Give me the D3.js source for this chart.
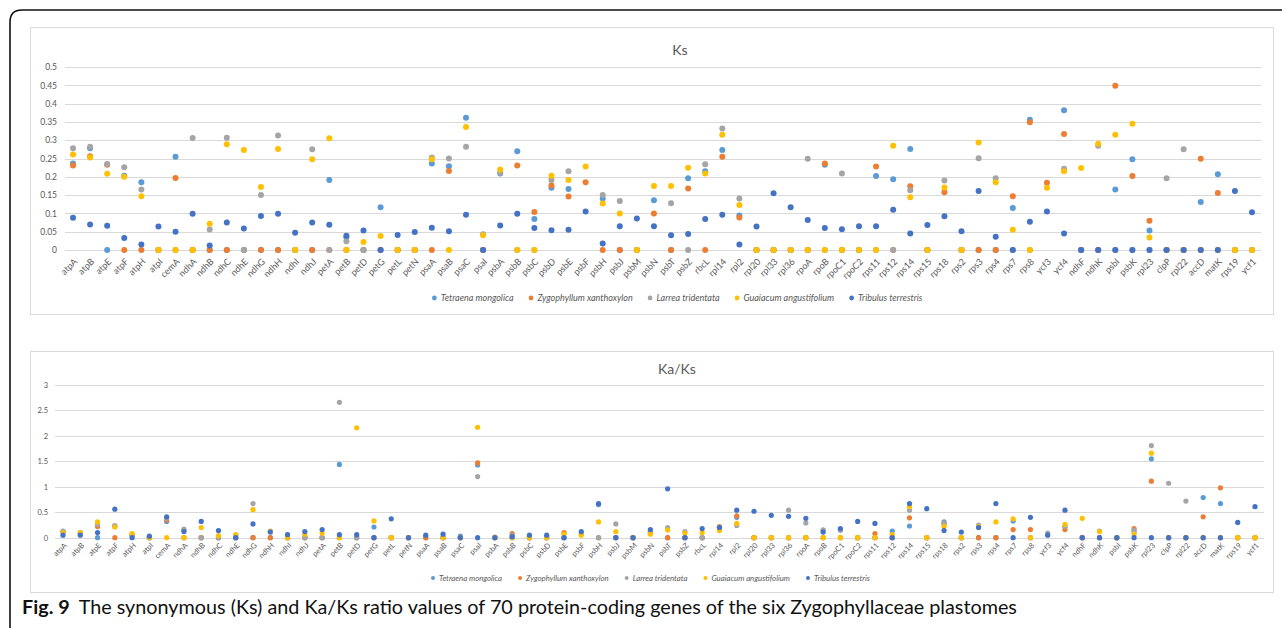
<!DOCTYPE html>
<html lang="en">
<head>
    <meta charset="UTF-8">
    <title>Ks and Ka/Ks</title>
    <script src="https://cdn.jsdelivr.net/npm/d3@7/dist/d3.min.js"></script>
    <style>
        body { margin: 0; background: #fff; }
        svg { display: block; }
        .panel-box { fill: #fff; stroke: #d9d9d9; stroke-width: 1; }
        .grid line { stroke: #d9d9d9; stroke-width: 1; }
        .tick-label { font-family: Lato, sans-serif; fill: #595959; }
        .title { font-family: Lato, sans-serif; fill: #595959; }
        .legend text { font-family: Lato, sans-serif; font-style: italic; fill: #595959; }
    </style>
</head>
<body>
<script>
    var genes = ["atpA", "atpB", "atpE", "atpF", "atpH", "atpI", "cemA", "ndhA", "ndhB", "ndhC",
        "ndhE", "ndhG", "ndhH", "ndhI", "ndhJ", "petA", "petB", "petD", "petG", "petL",
        "petN", "psaA", "psaB", "psaC", "psaI", "psbA", "psbB", "psbC", "psbD", "psbE",
        "psbF", "psbH", "psbJ", "psbM", "psbN", "psbT", "psbZ", "rbcL", "rpl14", "rpl2",
        "rpl20", "rpl33", "rpl36", "rpoA", "rpoB", "rpoC1", "rpoC2", "rps11", "rps12", "rps14",
        "rps15", "rps18", "rps2", "rps3", "rps4", "rps7", "rps8", "ycf3", "ycf4", "ndhF",
        "ndhK", "psbI", "psbK", "rpl23", "clpP", "rpl22", "accD", "matK", "rps19", "ycf1"];

    var species = ["Tetraena mongolica", "Zygophyllum xanthoxylon", "Larrea tridentata",
        "Guaiacum angustifolium", "Tribulus terrestris"];
    var colors = ["#5b9bd5", "#ed7d31", "#a5a5a5", "#ffc000", "#4472c4"];

    var ksTicks = [0, 0.05, 0.1, 0.15, 0.2, 0.25, 0.3, 0.35, 0.4, 0.45, 0.5];
    var kaksTicks = [0, 0.5, 1, 1.5, 2, 2.5, 3];

    // Ks values, one array per species, in gene order (null = no point)
    var ksTetraena = [.236, .278, 0, .203, .185, 0, .255, 0, 0, 0,
        0, 0, 0, 0, 0, .191, .035, 0, .117, 0,
        0, .236, .229, .361, 0, .209, .270, .085, .170, .167,
        null, .141, 0, 0, .136, 0, .196, .215, .273, .094,
        0, 0, 0, 0, .233, 0, 0, .202, .193, .276,
        0, null, 0, 0, 0, .115, .356, null, .382, 0,
        0, .165, .248, .053, 0, 0, .131, .207, 0, 0];
    var ksZygophyllum = [.231, .256, .233, 0, 0, 0, .197, 0, 0, 0,
        0, 0, 0, 0, 0, 0, 0, 0, 0, 0,
        0, 0, .216, null, 0, null, .231, .104, .176, .146,
        .185, 0, 0, 0, .100, 0, .168, 0, .255, .089,
        0, 0, 0, 0, .236, 0, 0, .228, 0, .174,
        0, .158, 0, 0, 0, .147, .349, .184, .317, 0,
        0, .449, .202, .080, 0, 0, .249, .156, 0, 0];
    var ksLarrea = [.278, .282, .235, .226, .165, 0, 0, .306, .056, .307,
        0, .150, .313, 0, .275, 0, .024, 0, 0, 0,
        0, .253, .250, .282, .043, .211, 0, 0, .191, .215,
        null, .150, .134, 0, null, .128, 0, .234, .332, .141,
        0, 0, 0, .249, 0, .209, 0, 0, 0, .163,
        0, .190, 0, .251, .196, 0, 0, null, .222, 0,
        .285, 0, 0, 0, .196, .275, 0, 0, 0, 0];
    var ksGuaiacum = [.261, .253, .208, .200, .147, 0, 0, 0, .072, .289,
        .273, .172, .276, 0, .248, .305, 0, .022, .038, 0,
        0, .248, 0, .336, .040, .220, 0, 0, .203, .191,
        .228, .127, .100, 0, .175, .175, .225, .209, .315, .123,
        0, 0, 0, 0, 0, 0, 0, 0, .285, .144,
        0, .171, 0, .294, .185, .055, 0, .170, .215, .224,
        .290, .315, .345, .034, 0, 0, 0, 0, 0, 0];
    var ksTribulus = [.088, .070, .066, .033, .015, .064, .050, .099, .012, .075,
        .059, .093, .099, .047, .075, .069, .039, .053, 0, .041,
        .049, .061, .051, .096, 0, .067, .099, .060, .054, .055,
        .105, .018, .065, .086, .065, .040, .044, .085, .096, .015,
        .064, .155, .117, .082, .060, .057, .065, .065, .110, .045,
        .068, .092, .051, .161, .036, 0, .077, .105, .045, 0,
        0, 0, 0, 0, 0, 0, 0, 0, .161, .103];

    // Ka/Ks values, same layout
    var kaksTetraena = [.12, .08, 0, .23, .05, 0, .32, .15, 0, 0,
        0, 0, 0, 0, 0, 0, 1.44, 0, .21, 0,
        0, 0, 0, .03, 1.43, 0, 0, 0, 0, 0,
        null, .65, 0, 0, .13, 0, 0, 0, .20, .40,
        0, 0, 0, 0, .15, .15, 0, 0, .13, .23,
        0, .31, 0, 0, 0, .33, 0, null, .22, 0,
        0, 0, .12, 1.55, 0, 0, .79, .67, 0, 0];
    var kaksZygophyllum = [.11, null, .22, 0, .05, 0, .35, 0, 0, 0,
        0, 0, 0, 0, 0, 0, 0, 0, 0, 0,
        0, 0, 0, 0, 1.47, .01, .08, 0, 0, .10,
        null, 0, 0, 0, .11, 0, 0, 0, .22, .43,
        0, 0, 0, 0, 0, 0, 0, .08, 0, .39,
        0, .27, 0, 0, 0, .16, .16, null, .16, 0,
        0, 0, .18, 1.11, 0, 0, .41, .98, 0, 0];
    var kaksLarrea = [.13, .10, .26, .24, .05, 0, .38, .17, 0, 0,
        .05, .67, .13, 0, 0, 0, 2.66, 0, 0, 0,
        0, null, 0, 0, 1.20, 0, .05, 0, 0, 0,
        .08, 0, .27, 0, .09, .20, .12, 0, .20, .24,
        0, 0, .54, .29, .15, .15, 0, 0, 0, .54,
        0, .29, 0, .25, null, null, 0, .09, .22, 0,
        .13, 0, .15, 1.81, 1.07, .72, 0, 0, 0, 0];
    var kaksGuaiacum = [.10, .10, .31, .21, .08, 0, 0, 0, .20, .04,
        .06, .55, .12, 0, .07, .09, 0, 2.16, .33, 0,
        0, null, 0, 0, 2.17, 0, 0, 0, 0, .07,
        .05, .31, .12, 0, .07, .15, .09, .10, .14, .28,
        0, 0, 0, 0, 0, 0, 0, 0, .06, .61,
        0, .22, 0, .22, .31, .37, 0, null, .26, .38,
        .12, 0, .07, 1.66, 0, 0, 0, 0, 0, 0];
    var kaksTribulus = [.05, .05, .10, .56, 0, .03, .41, .12, .32, .14,
        0, .27, .11, .06, .12, .16, .06, .06, 0, .37,
        0, .05, .07, 0, 0, 0, .02, .05, .05, 0,
        .12, .67, 0, 0, .16, .96, 0, .18, .20, .54,
        .52, .44, .42, .38, .11, .18, .32, .28, 0, .67,
        .57, .14, .11, .20, .67, 0, .40, .05, .54, 0,
        0, 0, 0, 0, 0, 0, 0, 0, .30, .61];

    var ksSeries = [ksTetraena, ksZygophyllum, ksLarrea, ksGuaiacum, ksTribulus];
    var kaksSeries = [kaksTetraena, kaksZygophyllum, kaksLarrea, kaksGuaiacum, kaksTribulus];

    var width = 1282, height = 628;

    var svg = d3.select("body").append("svg")
        .attr("width", width)
        .attr("height", height);

    // outer frame of the figure (rounded top-left corner)
    svg.append("path")
        .attr("d", "M10,628 L10,22 Q10,10 22,10 L1282,10")
        .attr("fill", "none")
        .attr("stroke", "#111")
        .attr("stroke-width", 1.6);

    var drawPanel = function (opts) {
        var g = svg.append("g");

        g.append("rect")
            .attr("class", "panel-box")
            .attr("x", opts.box[0] + 0.5)
            .attr("y", opts.box[1] + 0.5)
            .attr("width", opts.box[2] - opts.box[0])
            .attr("height", opts.box[3] - opts.box[1]);

        var x = d3.scalePoint().domain(genes).range(opts.xRange);
        var y = d3.scaleLinear().domain(opts.yDomain).range(opts.yRange);

        // gridlines
        g.append("g").attr("class", "grid")
            .selectAll("line")
            .data(opts.ticks)
            .enter().append("line")
            .attr("x1", opts.gridX[0])
            .attr("x2", opts.gridX[1])
            .attr("y1", function (d) { return Math.round(y(d)) + 0.5; })
            .attr("y2", function (d) { return Math.round(y(d)) + 0.5; });

        // y labels
        var yAxis = d3.axisLeft(y).tickValues(opts.ticks).tickSize(0).tickPadding(0)
            .tickFormat(function (d) { return String(d); });
        var ya = g.append("g")
            .attr("transform", "translate(" + opts.yLabelX + ",0)")
            .call(yAxis);
        ya.select(".domain").remove();
        ya.selectAll("text")
            .attr("class", "tick-label")
            .attr("font-size", opts.yFont)
            .attr("fill", "#595959");

        // x labels, rotated
        var xAxis = d3.axisBottom(x).tickSize(0).tickPadding(0);
        var xa = g.append("g")
            .attr("transform", "translate(0," + opts.xLabelY + ")")
            .call(xAxis);
        xa.select(".domain").remove();
        xa.selectAll("text")
            .attr("class", "tick-label")
            .attr("font-size", opts.xFont)
            .attr("fill", "#595959")
            .attr("text-anchor", "end")
            .attr("y", 0)
            .attr("dy", "0.35em")
            .attr("transform", "translate(2,0) rotate(-45)");

        // title
        g.append("text")
            .attr("class", "title")
            .attr("x", opts.titlePos[0])
            .attr("y", opts.titlePos[1])
            .attr("text-anchor", "middle")
            .attr("font-size", 14)
            .text(opts.title);

        // points, series in order so later ones sit on top
        opts.series.forEach(function (vals, si) {
            g.append("g")
                .selectAll("circle")
                .data(vals.map(function (v, i) { return { gene: genes[i], v: v }; })
                    .filter(function (d) { return d.v !== null; }))
                .enter().append("circle")
                .attr("cx", function (d) { return x(d.gene); })
                .attr("cy", function (d) { return y(d.v); })
                .attr("r", opts.r)
                .attr("fill", colors[si]);
        });

        // legend
        var lg = g.append("g").attr("class", "legend")
            .attr("transform", "translate(" + opts.legendPos[0] + "," + opts.legendPos[1] + ")");
        var cx = 0;
        species.forEach(function (name, i) {
            lg.append("circle")
                .attr("cx", cx + opts.legendR)
                .attr("cy", 0)
                .attr("r", opts.legendR)
                .attr("fill", colors[i]);
            var t = lg.append("text")
                .attr("x", cx + opts.legendR * 2 + 4)
                .attr("y", 0)
                .attr("dy", "0.35em")
                .attr("font-size", opts.legendFont)
                .text(name);
            cx += opts.legendR * 2 + 4 + t.node().getComputedTextLength() + opts.legendGap;
        });
    };

    drawPanel({
        title: "Ks",
        box: [30, 27, 1273, 314],
        xRange: [73, 1252],
        yDomain: [0, 0.5],
        yRange: [250, 67],
        gridX: [65, 1261],
        ticks: ksTicks,
        yLabelX: 57,
        yFont: 8.5,
        xLabelY: 260,
        xFont: 9,
        titlePos: [680, 55],
        series: ksSeries,
        r: 3,
        legendPos: [432, 298],
        legendR: 2.4,
        legendFont: 9,
        legendGap: 15
    });

    drawPanel({
        title: "Ka/Ks",
        box: [30, 351, 1273, 592],
        xRange: [63, 1255],
        yDomain: [0, 3],
        yRange: [537.7, 385],
        gridX: [55, 1264],
        ticks: kaksTicks,
        yLabelX: 48,
        yFont: 7.5,
        xLabelY: 544,
        xFont: 7.5,
        titlePos: [677, 374],
        series: kaksSeries,
        r: 2.6,
        legendPos: [431, 578],
        legendR: 2,
        legendFont: 7.8,
        legendGap: 16
    });

    // figure caption
    var cap = svg.append("text")
        .attr("x", 22)
        .attr("y", 614)
        .attr("font-family", "Lato, sans-serif")
        .attr("font-size", 19.8)
        .attr("fill", "#111");
    cap.append("tspan").attr("font-weight", "bold").text("Fig. 9");
    cap.append("tspan").attr("dx", 9)
        .text("The synonymous (Ks) and Ka/Ks ratio values of 70 protein-coding genes of the six Zygophyllaceae plastomes");
</script>
</body>
</html>
